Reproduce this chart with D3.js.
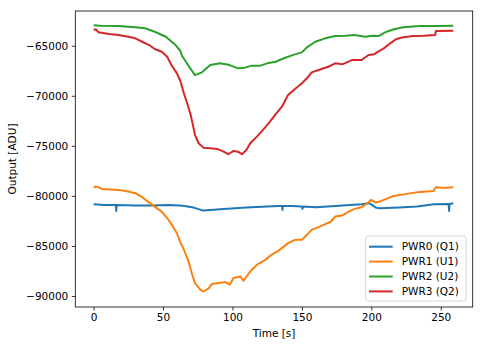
<!DOCTYPE html>
<html>
<head>
<meta charset="utf-8">
<script src="https://cdn.jsdelivr.net/npm/d3@7"></script>
<style>
  html, body { margin: 0; padding: 0; background: #fff; }
  svg { display: block; }
  text { font-family: "DejaVu Sans", sans-serif; fill: #000; }
</style>
</head>
<body>
<svg id="chart" width="483" height="347"></svg>
<script>
// Detector output of four power channels over a scan
const pwr0Time = [0, 8, 16, 16.3, 16.6, 30, 42, 54, 62, 65.5, 72, 79, 84, 93.6, 110, 125, 133, 135.7, 136, 136.3, 143, 150, 150.4, 150.8, 160, 174, 193, 198, 200, 203, 206, 220, 233, 245, 255.7, 256, 256.3, 259];
const pwr0Values = [-80830, -80900, -80900, -81500, -80900, -80970, -80950, -80900, -80970, -81000, -81170, -81470, -81400, -81300, -81170, -81070, -81000, -81000, -81400, -81000, -81000, -81050, -81300, -81050, -81130, -81000, -80830, -80730, -80850, -81150, -81230, -81150, -81070, -80830, -80800, -81500, -80800, -80730];

const pwr1Time = [0, 1.2, 3, 6, 18, 25, 30, 35, 40, 44, 49, 53, 56.4, 60, 62, 64.8, 68.4, 71, 73, 77, 79, 83, 85, 90, 95, 98, 100.8, 105.6, 108, 112.8, 117.6, 123.6, 128, 133, 135.6, 140, 145, 150, 153.6, 157, 164, 171, 174, 179, 183.6, 188, 193, 198, 200, 203, 206, 216, 225.6, 235, 244.8, 246.7, 252, 259];
const pwr1Values = [-79170, -79070, -79100, -79300, -79400, -79570, -79730, -80130, -80670, -81070, -81570, -82230, -82900, -83730, -84500, -85300, -86560, -87880, -88710, -89380, -89550, -89210, -88810, -88710, -88610, -88880, -88210, -88050, -88480, -87550, -86880, -86390, -85890, -85490, -85220, -84720, -84390, -84390, -83890, -83390, -82990, -82560, -82060, -81960, -81570, -81300, -81130, -80630, -80400, -80650, -80570, -80000, -79800, -79600, -79500, -79130, -79200, -79130];

const pwr2Time = [0, 5, 18, 30, 37, 44, 52, 59, 62.4, 63.6, 66, 69.6, 73, 78, 84, 91, 98, 104, 109, 114, 120, 125, 131, 138, 145, 150, 153.6, 159.6, 166.8, 174, 181, 188, 195.5, 201, 205, 211, 217, 223, 235, 247, 259];
const pwr2Values = [-62960, -63000, -63030, -63150, -63260, -63600, -64100, -64930, -65500, -66000, -66500, -67260, -67930, -67660, -66930, -66760, -66930, -67260, -67190, -66990, -66990, -66760, -66600, -66200, -65860, -65660, -65160, -64600, -64260, -64030, -64000, -63930, -64100, -64000, -64030, -63600, -63330, -63160, -63030, -63030, -63000];

const pwr3Time = [0, 1.5, 3.6, 11, 18, 25, 30, 35, 40, 44, 49, 53, 56, 60, 62.4, 65, 67, 69.6, 71.5, 73, 75.6, 79, 84, 89, 93.6, 97, 100.8, 104, 106.8, 110, 112.8, 117.6, 122, 127, 131, 135.6, 140, 145, 150, 153.6, 157, 162, 169, 174, 179, 186, 193, 198, 202, 204, 209, 213.6, 218, 223, 230, 237.6, 246, 246.5, 259];
const pwr3Values = [-63430, -63350, -63660, -63830, -63930, -64100, -64260, -64600, -64930, -65330, -65600, -66100, -66930, -67760, -68500, -69750, -70590, -71750, -72910, -73910, -74740, -75180, -75240, -75310, -75580, -75840, -75510, -75580, -75840, -75410, -74740, -74080, -73410, -72580, -71850, -71090, -69920, -69320, -68750, -68250, -67660, -67430, -67100, -66760, -66860, -66430, -66430, -65930, -65860, -65660, -65260, -64760, -64330, -64160, -64030, -64000, -63930, -63530, -63500];

const seriesNames = ["PWR0 (Q1)", "PWR1 (U1)", "PWR2 (U2)", "PWR3 (Q2)"];
const seriesColors = ["#1f77b4", "#ff7f0e", "#2ca02c", "#d62728"];
const xTicks = [0, 50, 100, 150, 200, 250];
const yTicks = [-65000, -70000, -75000, -80000, -85000, -90000];

const series = [
  [pwr0Time, pwr0Values],
  [pwr1Time, pwr1Values],
  [pwr2Time, pwr2Values],
  [pwr3Time, pwr3Values]
].map(([t, v], i) => ({
  name: seriesNames[i],
  color: seriesColors[i],
  points: t.map((tt, j) => [tt, v[j]])
}));

const svg = d3.select("#chart");
const plot = { left: 75.3, top: 11, right: 472.7, bottom: 307 };

const x = d3.scaleLinear().domain([-13.2, 273]).range([plot.left, plot.right]);
const y = d3.scaleLinear().domain([-91100, -61530]).range([plot.bottom, plot.top]);

const fmt = d => (d < 0 ? "\u2212" : "") + Math.abs(d);

// data lines
const line = d3.line().x(d => x(d[0])).y(d => y(d[1]));
const lines = svg.append("g");
series.forEach(s => {
  lines.append("path")
    .datum(s.points)
    .attr("d", line)
    .attr("fill", "none")
    .attr("stroke", s.color)
    .attr("stroke-width", 2)
    .attr("stroke-linejoin", "round");
});

// axes
const xAxis = svg.append("g")
  .attr("transform", `translate(0,${plot.bottom})`)
  .call(d3.axisBottom(x).tickValues(xTicks).tickSize(3.5).tickPadding(3.5).tickSizeOuter(0));
const yAxis = svg.append("g")
  .attr("transform", `translate(${plot.left},0)`)
  .call(d3.axisLeft(y).tickValues(yTicks).tickFormat(fmt).tickSize(3.5).tickPadding(3.5).tickSizeOuter(0));
[xAxis, yAxis].forEach(a => {
  a.select(".domain").remove();
  a.selectAll(".tick line").attr("stroke", "#000").attr("stroke-width", 0.8);
  a.selectAll(".tick text").attr("font-size", "10.5px").attr("font-family", "DejaVu Sans").attr("fill", "#000");
});

// frame
svg.append("rect")
  .attr("x", plot.left).attr("y", plot.top)
  .attr("width", plot.right - plot.left).attr("height", plot.bottom - plot.top)
  .attr("fill", "none").attr("stroke", "#000").attr("stroke-width", 0.8);

// axis titles
svg.append("text")
  .attr("x", (plot.left + plot.right) / 2).attr("y", 337)
  .attr("text-anchor", "middle").attr("font-size", "10.5px")
  .text("Time [s]");
svg.append("text")
  .attr("transform", `translate(16,${(plot.top + plot.bottom) / 2}) rotate(-90)`)
  .attr("text-anchor", "middle").attr("font-size", "10.5px")
  .text("Output [ADU]");

// legend
const lg = svg.append("g").attr("transform", "translate(365.7,236)");
lg.append("rect")
  .attr("width", 100.3).attr("height", 65).attr("rx", 2.5)
  .attr("fill", "#fff").attr("fill-opacity", 0.8)
  .attr("stroke", "#ccc").attr("stroke-width", 0.8);
series.forEach((s, i) => {
  const cy = 10.7 + i * 14.9;
  lg.append("line")
    .attr("x1", 3.3).attr("x2", 27).attr("y1", cy).attr("y2", cy)
    .attr("stroke", s.color).attr("stroke-width", 2);
  lg.append("text")
    .attr("x", 36).attr("y", cy).attr("dy", "0.35em")
    .attr("font-size", "10.5px")
    .text(s.name);
});
</script>
</body>
</html>
